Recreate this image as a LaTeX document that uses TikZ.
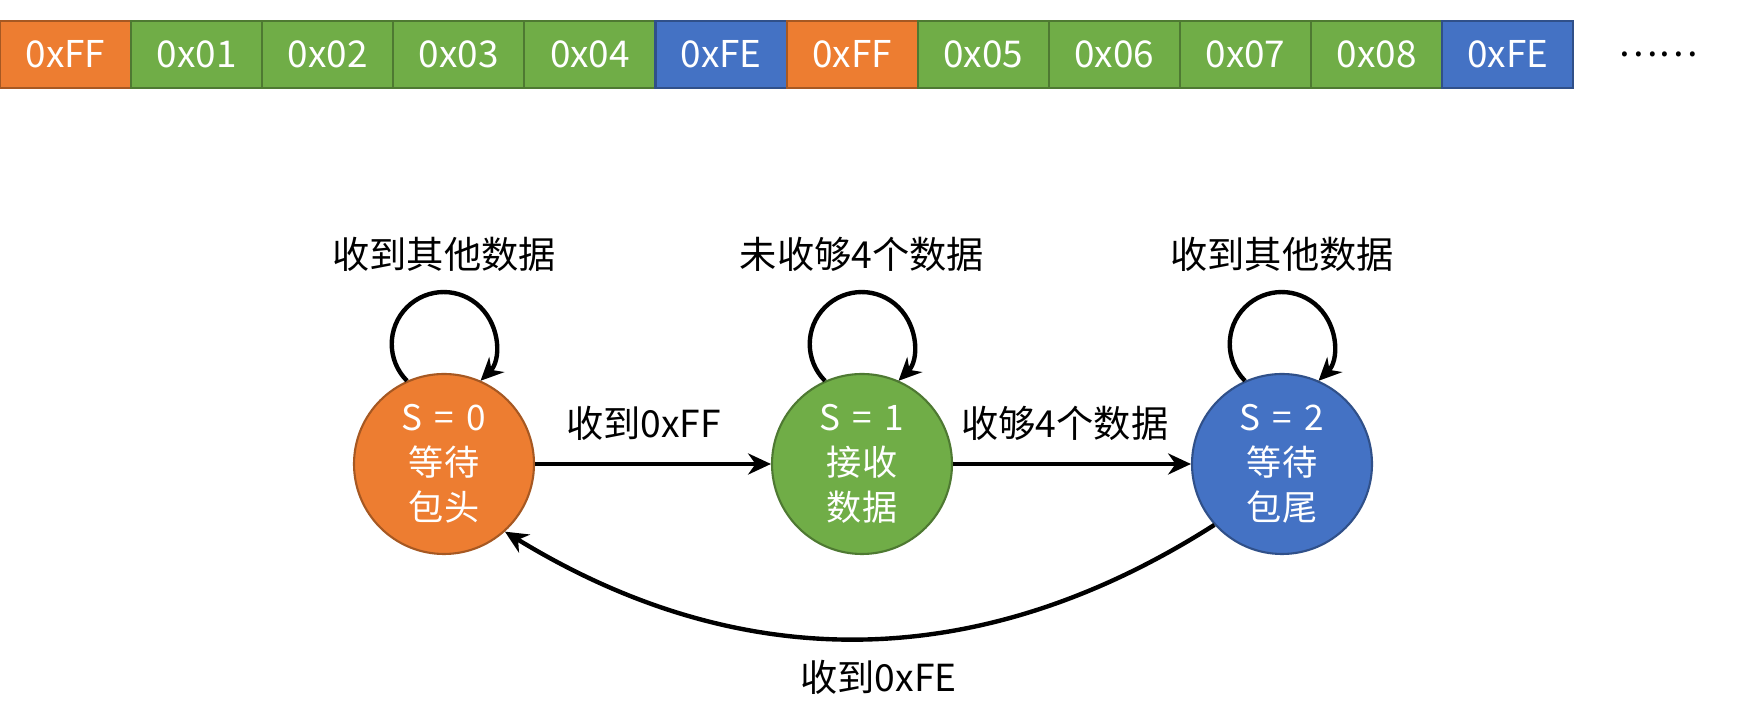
\documentclass[tikz,border=0pt]{standalone}
\usepackage{fontspec}
\setmainfont{Noto Sans CJK SC}
\usetikzlibrary{arrows.meta, positioning}

\definecolor{pktorange}{HTML}{ED7D31}
\definecolor{pktgreen}{HTML}{70AD47}
\definecolor{pktblue}{HTML}{4472C4}

\newcommand{\stv}[1]{S\hspace{0.35em}=\hspace{0.35em}#1}

\begin{document}
\begin{tikzpicture}[
    cell/.style={draw, line width=0.6pt, minimum width=1.311cm, minimum height=0.67cm, inner sep=0pt, text=white, font=\fontsize{10.5}{12}\selectfont},
    state/.style={circle, draw, line width=0.6pt, minimum size=1.8cm, inner sep=0pt, align=center, text=white, font=\fontsize{10}{12.8}\selectfont},
    lbl/.style={font=\fontsize{10.6}{12}\selectfont, inner sep=0pt},
    trans/.style={->, line width=1.25pt},
    >={Stealth[length=6.5pt, width=6pt]}
]

\useasboundingbox (0,0) rectangle (17.41,-7.23);

% Byte stream
\foreach \val/\col [count=\i] in {0xFF/pktorange, 0x01/pktgreen, 0x02/pktgreen, 0x03/pktgreen, 0x04/pktgreen, 0xFE/pktblue,
    0xFF/pktorange, 0x05/pktgreen, 0x06/pktgreen, 0x07/pktgreen, 0x08/pktgreen, 0xFE/pktblue}
    \node[cell, fill=\col, draw=\col!70!black] (b\i) at ({(\i-0.5)*1.311}, -0.545) {\val};
\node[lbl] (dots) at (16.58, -0.54) {……};

% States
\node[state, fill=pktorange, draw=pktorange!70!black] (s0) at (4.44, -4.64) {\stv{0}\\等待\\包头};
\node[state, fill=pktgreen, draw=pktgreen!70!black] (s1) at (8.62, -4.64) {\stv{1}\\接收\\数据};
\node[state, fill=pktblue, draw=pktblue!70!black] (s2) at (12.82, -4.64) {\stv{2}\\等待\\包尾};

% Self loops
\draw[trans] (s0.114) arc[start angle=225, end angle=-45, radius=0.52];
\draw[trans] (s1.114) arc[start angle=225, end angle=-45, radius=0.52];
\draw[trans] (s2.114) arc[start angle=225, end angle=-45, radius=0.52];
\node[lbl] (l0) at (4.44, -2.54) {收到其他数据};
\node[lbl] (l1) at (8.62, -2.54) {未收够4个数据};
\node[lbl] (l2) at (12.82, -2.54) {收到其他数据};

% Transitions
\draw[trans] (s0) -- node[lbl, above=0.21cm, pos=0.46] {收到0xFF} (s1);
\draw[trans] (s1) -- node[lbl, above=0.21cm, pos=0.47] {收够4个数据} (s2);
\draw[trans] (s2.222) to[bend left=32] node[lbl, below=0.2cm, pos=0.475] {收到0xFE} (s0.312);

\end{tikzpicture}
\end{document}
